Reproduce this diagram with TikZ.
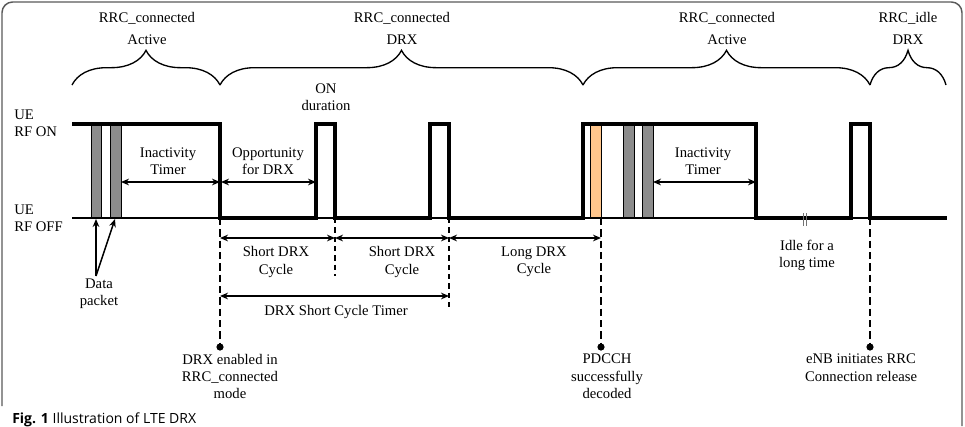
\documentclass[tikz,border=0pt]{standalone}
\usepackage{fontspec}
\setmainfont{Liberation Serif}
\newfontfamily\capfont{Open Sans}
\usetikzlibrary{arrows.meta,decorations.pathreplacing}

\tikzset{
  wave/.style={line width=2.4pt, line join=miter},
  axisline/.style={line width=0.8pt},
  pkt/.style={draw=black, line width=0.5pt, fill=black!45},
  pdcch/.style={draw=black, line width=0.5pt, fill=orange!45},
  dim/.style={{Stealth[length=6pt,width=5pt]}-{Stealth[length=6pt,width=5pt]}, line width=1.1pt},
  ptr/.style={-{Stealth[length=6pt,width=5pt]}, line width=1.1pt},
  event/.style={line width=1.7pt, dash pattern=on 5.5pt off 3pt},
  cycleline/.style={line width=0.8pt, dash pattern=on 4pt off 3pt},
  brc/.style={decorate, decoration={brace, amplitude=26pt}, line width=1pt},
  lbl/.style={font=\fontsize{11}{12.8}\selectfont, align=center, inner sep=0pt},
}

\begin{document}
\begin{tikzpicture}[x=0.75pt,y=0.75pt,yscale=-1,xscale=1]
\useasboundingbox (0,0) rectangle (965,426);
% frame
\draw[black!65, line width=1.1pt, rounded corners=8pt] (2,406) -- (2,2) -- (962,2) -- (962,426);

% states on top
\draw[brc] (72,85) -- (220,85);
\draw[brc] (220,85) -- (583,85);
\draw[brc] (583,85) -- (870,85);
\draw[brc] (870,85) -- (946,85);
\node[lbl] (s1a) at (147,18) {RRC\_connected};
\node[lbl] (s1b) at (147,40) {Active};
\node[lbl] (s2a) at (402,18) {RRC\_connected};
\node[lbl] (s2b) at (402,40) {DRX};
\node[lbl] (s3a) at (727,18) {RRC\_connected};
\node[lbl] (s3b) at (727,40) {Active};
\node[lbl] (s4a) at (908,18) {RRC\_idle};
\node[lbl] (s4b) at (908,40) {DRX};

% levels
\node[lbl, anchor=west, align=left] (ueon) at (14,123) {UE\\RF ON};
\node[lbl, anchor=west, align=left] (ueoff) at (14,218) {UE\\RF OFF};

% packets
\draw[pkt] (91,124) rectangle (101,218);
\draw[pkt] (110,124) rectangle (121,218);
\draw[pdcch] (590,124) rectangle (601,218);
\draw[pkt] (623,124) rectangle (634,218);
\draw[pkt] (642,124) rectangle (653,218);

% RF state
\draw[axisline] (72,218) -- (947,218);
\draw[wave] (72,124) -- (220,124) -- (220,218) -- (316,218) -- (316,124) -- (335,124)
  -- (335,218) -- (430,218) -- (430,124) -- (449,124) -- (449,218) -- (583,218)
  -- (583,124) -- (756,124) -- (756,218) -- (851,218) -- (851,124) -- (870,124)
  -- (870,218) -- (947,218);
\draw[black!55, line width=0.6pt] (803,213) -- (803,226) (806,213) -- (806,226);

% events
\coordinate (e1) at (220,347);
\coordinate (e2) at (601,347);
\coordinate (e3) at (870,347);
\draw[event] (220,218) -- (e1);
\draw[event] (601,218) -- (e2);
\draw[event] (870,218) -- (e3);
\fill (e1) circle (3.6);
\fill (e2) circle (3.6);
\fill (e3) circle (3.6);
\draw[cycleline] (335,218) -- (335,276);
\draw[cycleline] (449,218) -- (449,311);

% timers
\coordinate (ia) at (121,182);
\coordinate (ib) at (220,182);
\coordinate (oa) at (221,182);
\coordinate (ob) at (316,182);
\coordinate (ic) at (653,182);
\coordinate (id) at (756,182);
\draw[dim] (ia) -- (ib);
\draw[dim] (oa) -- (ob);
\draw[dim] (ic) -- (id);
\node[lbl] (inact1) at (168,161) {Inactivity\\Timer};
\node[lbl] (opp) at (268,161) {Opportunity\\for DRX};
\node[lbl] (inact2) at (703,161) {Inactivity\\Timer};
\node[lbl] (ondur) at (326,97) {ON\\duration};

% cycles
\coordinate (c0) at (220,238);
\coordinate (c1) at (335,238);
\coordinate (c2) at (449,238);
\coordinate (c3) at (601,238);
\draw[dim] (c0) -- (c1);
\draw[dim] (c1) -- (c2);
\draw[dim] (c2) -- (c3);
\draw[dim] (220,296) -- (449,296);
\node[lbl] (short1) at (276,262) {Short DRX\\Cycle};
\node[lbl] (short2) at (402,262) {Short DRX\\Cycle};
\node[lbl] (long) at (534,262) {Long DRX\\Cycle};
\node[lbl] (sctimer) at (336,312) {DRX Short Cycle Timer};
\node[lbl] (idle) at (807,255) {Idle for a\\long time};

% data packets
\node[lbl] (data) at (99,294) {Data\\packet};
\coordinate (d0) at (96,276);
\draw[ptr] (d0) -- (96,219);
\draw[ptr] (d0) -- (115,219);

% event texts
\node[lbl, anchor=north] (txt1) at (230,354) {DRX enabled in\\RRC\_connected\\mode};
\node[lbl, anchor=north] (txt2) at (607,354) {PDCCH\\successfully\\decoded};
\node[lbl, anchor=north] (txt3) at (861,354) {eNB initiates RRC\\Connection release};

% caption
\node[anchor=base west, inner sep=0pt, font=\capfont\fontsize{10.5}{13}\selectfont] (cap) at (12,423)
  {\textbf{Fig. 1} Illustration of LTE DRX};
\end{tikzpicture}
\end{document}
